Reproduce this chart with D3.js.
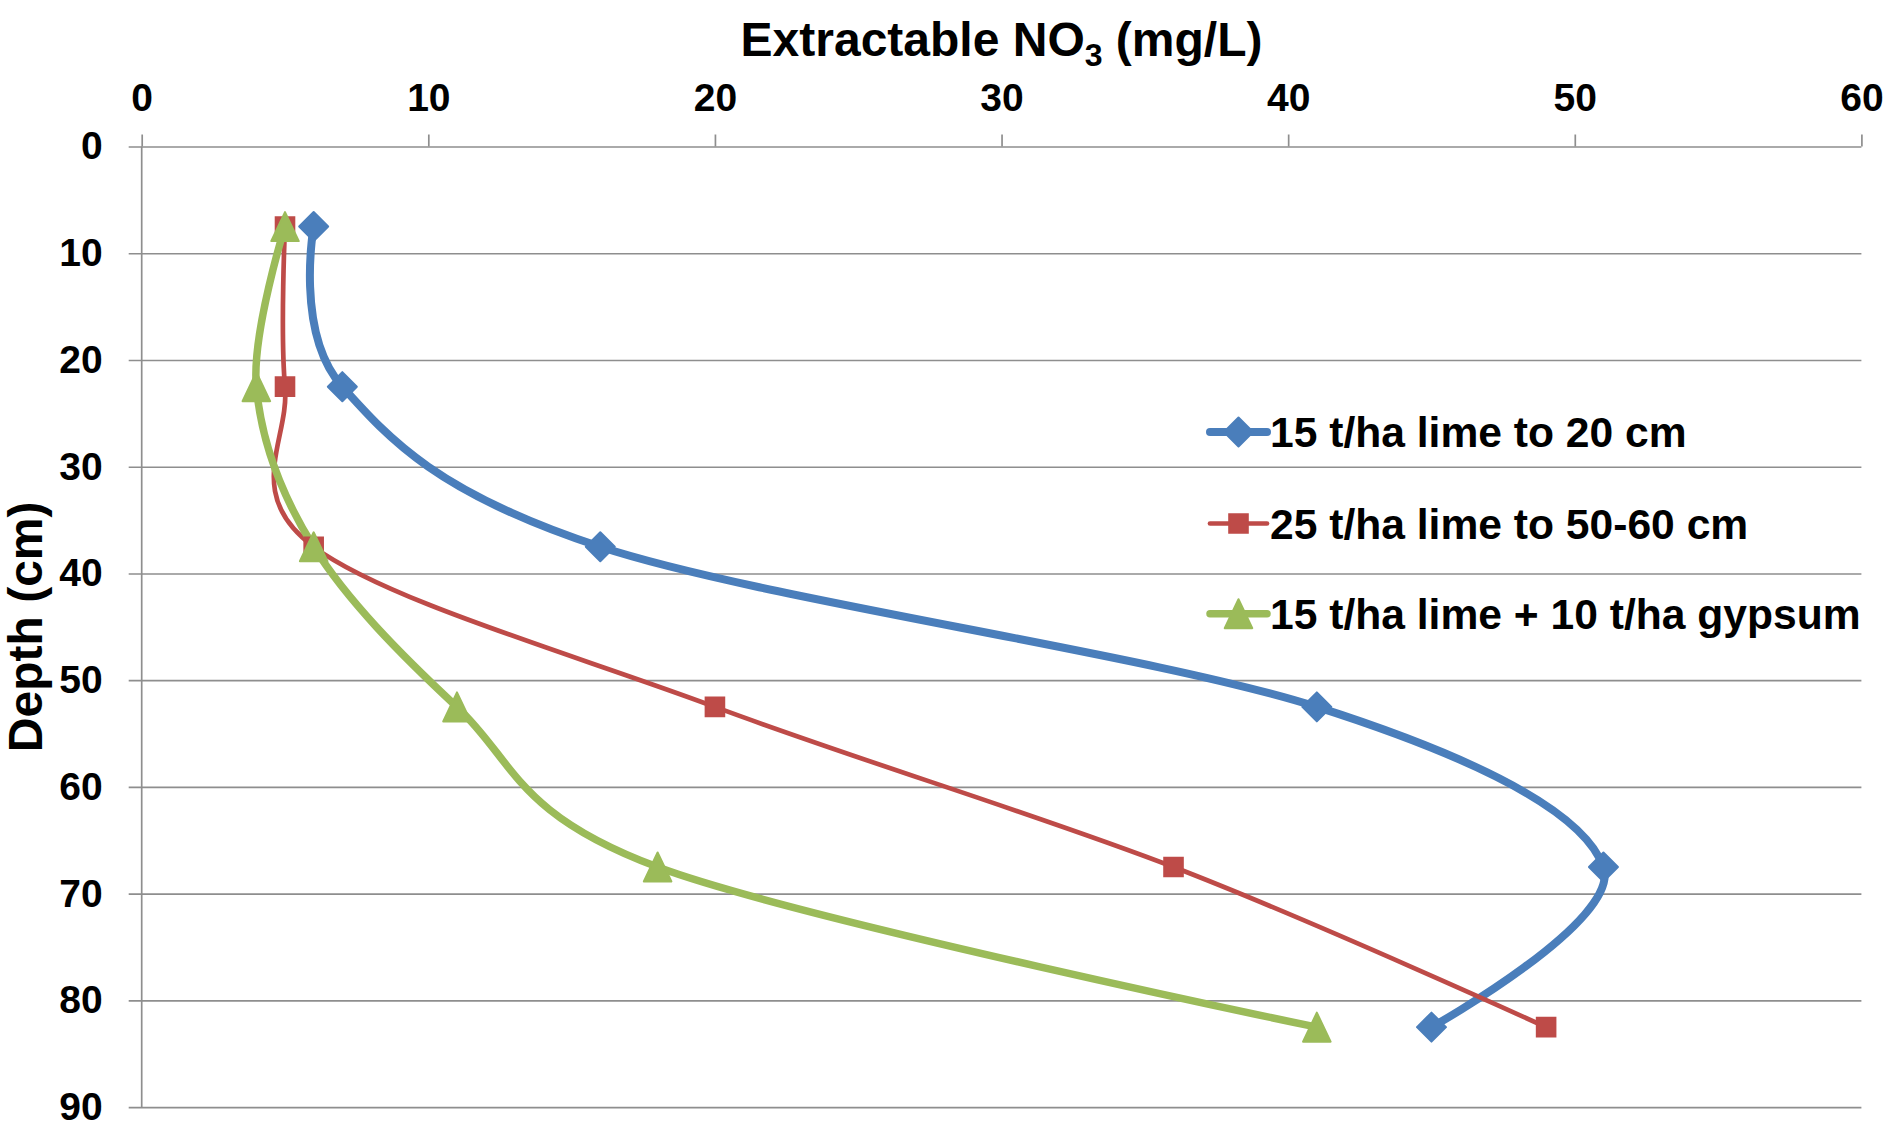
<!DOCTYPE html>
<html><head><meta charset="utf-8">
<script src="https://cdn.jsdelivr.net/npm/d3@7"></script>
<style>
html,body{margin:0;padding:0;background:#fff;}
svg text{font-family:"Liberation Sans",Arial,sans-serif;font-weight:bold;fill:#000;}
</style></head>
<body>
<svg id="chart" width="1883" height="1124"></svg>
<script>
// ---- data ----
const depths = [7.5, 22.5, 37.5, 52.5, 67.5, 82.5];
const seriesNames = ["15 t/ha lime to 20 cm", "25 t/ha lime to 50-60 cm", "15 t/ha lime + 10 t/ha gypsum"];
const lime15 = [6, 7, 16, 41, 51, 45];
const lime25 = [5, 5, 6, 20, 36, 49];
const limeGypsum = [5, 4, 6, 11, 18, 41];
const xTicks = [0, 10, 20, 30, 40, 50, 60];
const yTicks = [0, 10, 20, 30, 40, 50, 60, 70, 80, 90];

const colors = ["#4a7ebb", "#be4b48", "#9bbb59"];
const widths = [8, 4.7, 7.5];
const markers = ["diamond", "square", "triangle"];
const allSeries = [lime15, lime25, limeGypsum];

const svg = d3.select("#chart");
const m = {left: 141.7, top: 146.5, right: 1883 - 1861.4, bottom: 1124 - 1107.2};
const W = 1883 - m.left - m.right, H = 1124 - m.top - m.bottom;
const g = svg.append("g").attr("transform", `translate(${m.left},${m.top})`);

const x = d3.scaleLinear().domain([0, 60]).range([0, W]);
const y = d3.scaleLinear().domain([0, 90]).range([0, H]);

const gridColor = "#8e8e8e";

// y axis with gridlines
const yAxis = g.append("g").call(d3.axisLeft(y).tickValues(yTicks).tickSizeOuter(0).tickSizeInner(13).tickPadding(26));
yAxis.select(".domain").remove();
yAxis.selectAll(".tick line").attr("x1", -13).attr("x2", W).attr("stroke", gridColor).attr("stroke-width", 1.7);
yAxis.selectAll(".tick text").attr("font-size", 39).attr("font-family", "Liberation Sans, Arial").attr("font-weight", "bold").attr("fill", "#000");

// x axis on top
const xAxis = g.append("g").call(d3.axisTop(x).tickValues(xTicks).tickSizeOuter(0).tickSizeInner(12).tickPadding(24));
xAxis.select(".domain").remove();
xAxis.selectAll(".tick line").attr("stroke", gridColor).attr("stroke-width", 1.7);
xAxis.selectAll(".tick text").attr("font-size", 39).attr("font-family", "Liberation Sans, Arial").attr("font-weight", "bold").attr("fill", "#000");

// vertical axis line at x=0
g.append("line").attr("x1", x(0)).attr("x2", x(0)).attr("y1", y(0)).attr("y2", y(90))
  .attr("stroke", gridColor).attr("stroke-width", 1.7);

function markerPath(type, s) {
  if (type === "diamond") return `M0,${-s}L${s},0L0,${s}L${-s},0Z`;
  if (type === "square") return `M${-s},${-s}H${s}V${s}H${-s}Z`;
  return `M0,${-s}L${s*0.95},${s}L${-s*0.95},${s}Z`;
}
const msize = [14.5, 9.3, 14.5];

const line = d3.line().x(d => x(d[0])).y(d => y(d[1])).curve(d3.curveCardinal.tension(0));

allSeries.forEach((vals, i) => {
  const pts = vals.map((v, j) => [v, depths[j]]);
  g.append("path").datum(pts).attr("d", line).attr("fill", "none")
    .attr("stroke", colors[i]).attr("stroke-width", widths[i]).attr("stroke-linejoin", "round");
});
allSeries.forEach((vals, i) => {
  g.selectAll(null).data(vals.map((v, j) => [v, depths[j]])).enter().append("path")
    .attr("transform", d => `translate(${x(d[0])},${y(d[1])})`)
    .attr("d", markerPath(markers[i], msize[i]))
    .attr("fill", colors[i]).attr("stroke", colors[i]).attr("stroke-width", 2).attr("stroke-linejoin", i === 1 ? "miter" : "round");
});

// legend
const legY = [432, 523.5, 613.7];
seriesNames.forEach((name, i) => {
  const lg = svg.append("g").attr("transform", `translate(1210,${legY[i]})`);
  lg.append("line").attr("x1", 0).attr("x2", 57).attr("y1", 0).attr("y2", 0)
    .attr("stroke", colors[i]).attr("stroke-width", widths[i]).attr("stroke-linecap", "round");
  lg.append("path").attr("transform", "translate(28.5,0)").attr("d", markerPath(markers[i], msize[i]))
    .attr("fill", colors[i]).attr("stroke", colors[i]).attr("stroke-width", 2).attr("stroke-linejoin", i === 1 ? "miter" : "round");
  lg.append("text").attr("x", 60).attr("y", 0).attr("dy", "0.36em").attr("font-size", 42.6).text(name);
});

// titles
const t = svg.append("text").attr("x", m.left + W / 2).attr("y", 56).attr("text-anchor", "middle").attr("font-size", 48);
t.append("tspan").text("Extractable NO");
t.append("tspan").attr("font-size", 32).attr("dy", 10).text("3");
t.append("tspan").attr("dy", -10).text(" (mg/L)");

svg.append("text").attr("transform", `translate(42,${m.top + H / 2}) rotate(-90)`)
  .attr("text-anchor", "middle").attr("font-size", 48).text("Depth (cm)");
</script>
</body></html>
